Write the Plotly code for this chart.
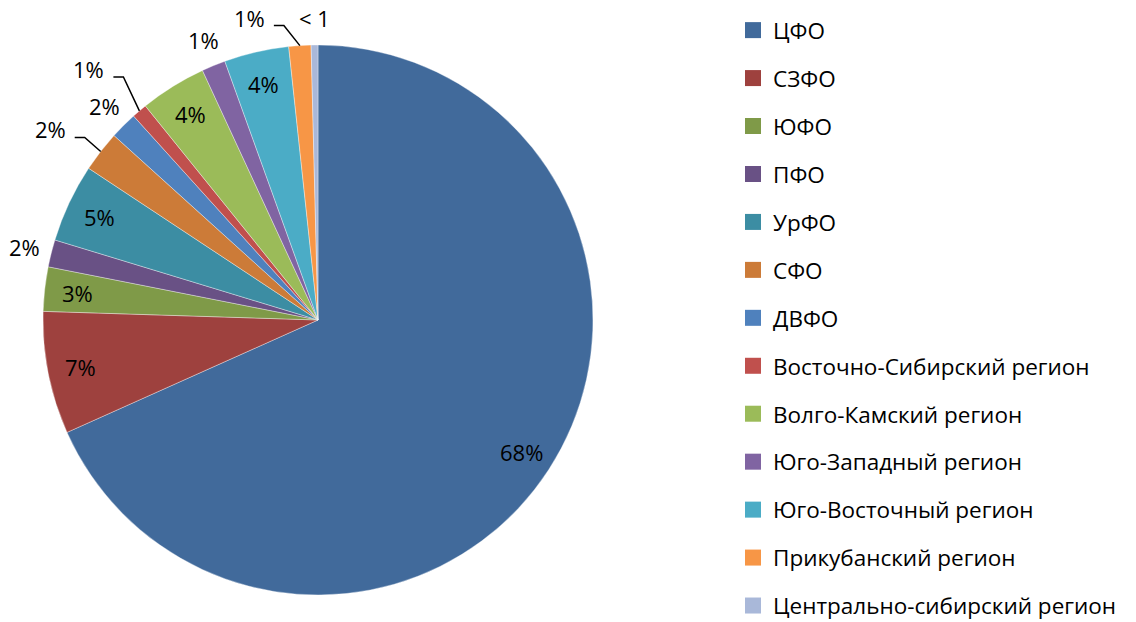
import math
import plotly.graph_objects as go

# Regional shares, %, clockwise from 12 o'clock
regions = [
    "ЦФО", "СЗФО", "ЮФО", "ПФО", "УрФО", "СФО", "ДВФО",
    "Восточно-Сибирский регион", "Волго-Камский регион",
    "Юго-Западный регион", "Юго-Восточный регион",
    "Прикубанский регион", "Центрально-сибирский регион",
]
shares = [68.3, 7.2, 2.6, 1.6, 4.6, 2.4, 1.6, 0.9, 3.9, 1.4, 3.8, 1.3, 0.4]
colors = [
    "#416A9B", "#9E413E", "#7F9A48", "#695185", "#3C8DA3", "#CC7B38",
    "#4F81BD", "#C0504D", "#9BBB59", "#8064A2", "#4BACC6", "#F79646",
    "#A9B8D9",
]

FONT = "Open Sans"
W, H = 1136, 622

# Pie geometry in pixels
CX, CY, R = 318, 320, 275

# Label layout: slices below INSIDE_MIN get their label outside the pie;
# a few outside labels are lifted away with an elbow leader line.
INSIDE_MIN = 2.5
INSIDE_K = 0.88
OUTSIDE_K = 1.10
LEADER_RISE = {"СФО": 14, "Восточно-Сибирский регион": 34,
               "Прикубанский регион": 20}
LEADER_RUN = 16   # sideways part of the slanted segment, px
LEADER_TAIL = 10  # horizontal part of the leader, px
LEADER_GAP = 7    # space between leader end and its label, px


def label_text(v):
    return f"{round(v)}%" if round(v) >= 1 else "< 1"


def px(x, y):
    return x / W, 1 - y / H


fig = go.Figure()
fig.add_trace(go.Pie(
    labels=regions,
    values=shares,
    textinfo="none",
    marker=dict(colors=colors, line=dict(color="rgba(255,255,255,0.6)", width=0.6)),
    sort=False,
    direction="clockwise",
    rotation=0,
    showlegend=False,
    hoverinfo="label+percent",
    domain=dict(x=[(CX - R) / W, (CX + R) / W], y=[1 - (CY + R) / H, 1 - (CY - R) / H]),
))

# Data labels placed along each slice's bisector
total = sum(shares)
cum = 0.0
for name, v in zip(regions, shares):
    mid = (cum + v / 2) / total * 2 * math.pi
    cum += v
    ux, uy = math.sin(mid), -math.cos(mid)
    txt = label_text(v)
    if v >= INSIDE_MIN:
        x, y = px(CX + ux * R * INSIDE_K, CY + uy * R * INSIDE_K)
        fig.add_annotation(x=x, y=y, xref="paper", yref="paper", text=txt,
                           showarrow=False, xanchor="center", yanchor="middle")
    elif name in LEADER_RISE:
        side = -1 if ux < 0 else 1
        x0, y0 = CX + ux * R, CY + uy * R
        x1, y1 = x0 + side * LEADER_RUN, y0 - LEADER_RISE[name]
        x2 = x1 + side * LEADER_TAIL
        pts = [px(x0, y0), px(x1, y1), px(x2, y1)]
        path = "M {} {} L {} {} L {} {}".format(*[c for p in pts for c in p])
        fig.add_shape(type="path", path=path, xref="paper", yref="paper",
                      line=dict(color="black", width=1.5))
        lx, ly = px(x2 + side * LEADER_GAP, y1 - 8)
        fig.add_annotation(x=lx, y=ly, xref="paper", yref="paper", text=txt,
                           showarrow=False, yanchor="middle",
                           xanchor="right" if side < 0 else "left")
    else:
        x, y = px(CX + ux * R * OUTSIDE_K, CY + uy * R * OUTSIDE_K)
        fig.add_annotation(x=x, y=y, xref="paper", yref="paper", text=txt,
                           showarrow=False, xanchor="center", yanchor="middle")

# Legend entries, one per region
for name, col in zip(regions, colors):
    fig.add_trace(go.Scatter(
        x=[None], y=[None], mode="markers", name=name,
        legendgroup=name,
        marker=dict(symbol="square", size=16, color=col),
    ))

fig.update_layout(
    width=W, height=H,
    margin=dict(l=0, r=0, t=0, b=0, autoexpand=False),
    paper_bgcolor="white", plot_bgcolor="white",
    font=dict(family=FONT, size=22, color="black"),
    xaxis=dict(visible=False), yaxis=dict(visible=False),
    legend=dict(
        x=733 / W, y=1 - 9 / H, xanchor="left", yanchor="top",
        traceorder="grouped", tracegroupgap=15.7,
        itemsizing="trace", maxheight=800,
        font=dict(family=FONT, size=22.5, color="black"),
    ),
)

fig.write_html("out.html")
